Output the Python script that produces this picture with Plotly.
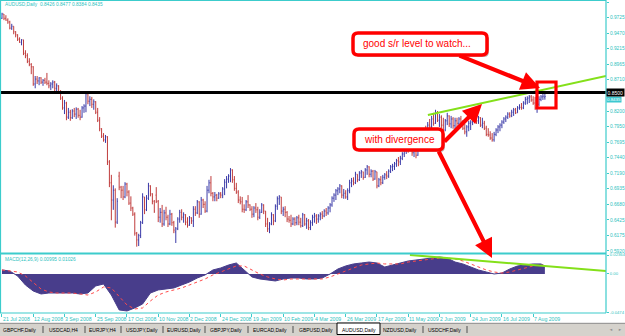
import plotly.graph_objects as go

# ---------------- data ----------------
date_labels = ["21 Jul 2008", "12 Aug 2008", "3 Sep 2008", "25 Sep 2008", "17 Oct 2008",
               "10 Nov 2008", "2 Dec 2008", "24 Dec 2008", "19 Jan 2009", "10 Feb 2009",
               "4 Mar 2009", "26 Mar 2009", "17 Apr 2009", "11 May 2009", "2 Jun 2009",
               "24 Jun 2009", "16 Jul 2009", "7 Aug 2009"]
date_label_bars = [0, 16, 32, 48, 64, 80, 96, 112, 128, 144, 160, 176, 192, 208, 224, 240, 256, 272]

price_ticks = [0.9975, 0.9725, 0.9470, 0.9215, 0.8965, 0.8710, 0.8200, 0.7950, 0.7695,
               0.7440, 0.7190, 0.6935, 0.6680, 0.6425, 0.6175, 0.5920]
price_ticktext = ["0.9975", "0.9725", "0.9470", "0.9215", "0.8965", "0.8710", "0.8200", "0.7950",
                  "0.7695", "0.7440", "0.7190", "0.6935", "0.6680", "0.6425", "0.6175", "0.5920"]
macd_ticks = [0.02364, 0.0, -0.0474]
macd_ticktext = ["0.02364", "0.00", "-0.0474"]

opens = [
    0.971, 0.978, 0.971, 0.968, 0.965, 0.955, 0.958, 0.949, 0.944, 0.937,
    0.932, 0.936, 0.914, 0.910, 0.901, 0.896, 0.892, 0.864, 0.872, 0.869,
    0.874, 0.867, 0.870, 0.867, 0.865, 0.861, 0.864, 0.867, 0.857, 0.861,
    0.851, 0.841, 0.825, 0.833, 0.810, 0.818, 0.809, 0.820, 0.815, 0.823,
    0.813, 0.810, 0.825, 0.828, 0.848, 0.836, 0.839, 0.831, 0.835, 0.818,
    0.805, 0.791, 0.779, 0.773, 0.778, 0.737, 0.703, 0.675, 0.691, 0.639,
    0.714, 0.696, 0.691, 0.680, 0.701, 0.688, 0.670, 0.662, 0.652, 0.621,
    0.610, 0.617, 0.638, 0.680, 0.659, 0.678, 0.698, 0.685, 0.673, 0.683,
    0.673, 0.647, 0.655, 0.636, 0.654, 0.647, 0.636, 0.652, 0.638, 0.623,
    0.628, 0.644, 0.655, 0.647, 0.651, 0.639, 0.634, 0.646, 0.641, 0.660,
    0.654, 0.672, 0.652, 0.675, 0.668, 0.657, 0.691, 0.703, 0.686, 0.680,
    0.683, 0.678, 0.685, 0.683, 0.693, 0.704, 0.709, 0.714, 0.724, 0.708,
    0.694, 0.688, 0.675, 0.672, 0.660, 0.659, 0.672, 0.667, 0.660, 0.652,
    0.662, 0.659, 0.647, 0.655, 0.667, 0.657, 0.636, 0.628, 0.636, 0.651,
    0.641, 0.665, 0.677, 0.680, 0.657, 0.660, 0.655, 0.644, 0.642, 0.636,
    0.644, 0.638, 0.646, 0.639, 0.633, 0.651, 0.636, 0.641, 0.630, 0.638,
    0.647, 0.649, 0.644, 0.649, 0.652, 0.649, 0.657, 0.654, 0.662, 0.667,
    0.678, 0.683, 0.690, 0.693, 0.698, 0.683, 0.686, 0.680, 0.690, 0.703,
    0.706, 0.703, 0.717, 0.708, 0.719, 0.721, 0.712, 0.724, 0.729, 0.717,
    0.722, 0.709, 0.721, 0.698, 0.708, 0.703, 0.712, 0.716, 0.714, 0.722,
    0.729, 0.730, 0.734, 0.739, 0.737, 0.743, 0.750, 0.755, 0.760, 0.756,
    0.765, 0.752, 0.755, 0.748, 0.766, 0.773, 0.781, 0.787, 0.784, 0.797,
    0.794, 0.807, 0.800, 0.817, 0.805, 0.810, 0.797, 0.789, 0.804, 0.812,
    0.799, 0.807, 0.796, 0.804, 0.800, 0.807, 0.802, 0.792, 0.786, 0.794,
    0.800, 0.802, 0.807, 0.810, 0.804, 0.809, 0.797, 0.800, 0.792, 0.782,
    0.781, 0.776, 0.773, 0.782, 0.789, 0.794, 0.797, 0.802, 0.807, 0.810,
    0.815, 0.812, 0.818, 0.822, 0.817, 0.825, 0.826, 0.825, 0.833, 0.839,
    0.841, 0.843, 0.838, 0.833, 0.825, 0.831, 0.839, 0.843, 0.8426]

highs = [
    0.980, 0.978, 0.976, 0.971, 0.967, 0.962, 0.958, 0.950, 0.945, 0.940,
    0.937, 0.936, 0.919, 0.914, 0.906, 0.898, 0.893, 0.877, 0.877, 0.875,
    0.875, 0.872, 0.874, 0.882, 0.870, 0.867, 0.870, 0.869, 0.865, 0.862,
    0.854, 0.844, 0.838, 0.835, 0.825, 0.822, 0.823, 0.825, 0.826, 0.825,
    0.822, 0.828, 0.831, 0.851, 0.848, 0.844, 0.843, 0.839, 0.836, 0.825,
    0.810, 0.792, 0.784, 0.781, 0.779, 0.740, 0.716, 0.699, 0.694, 0.678,
    0.721, 0.698, 0.698, 0.704, 0.703, 0.691, 0.681, 0.664, 0.655, 0.623,
    0.620, 0.641, 0.686, 0.680, 0.683, 0.703, 0.699, 0.686, 0.675, 0.696,
    0.675, 0.662, 0.667, 0.659, 0.664, 0.651, 0.659, 0.654, 0.641, 0.631,
    0.647, 0.659, 0.660, 0.655, 0.652, 0.647, 0.649, 0.647, 0.665, 0.665,
    0.675, 0.673, 0.680, 0.677, 0.673, 0.698, 0.708, 0.714, 0.688, 0.688,
    0.685, 0.688, 0.688, 0.696, 0.709, 0.714, 0.717, 0.727, 0.725, 0.714,
    0.703, 0.691, 0.681, 0.680, 0.668, 0.675, 0.683, 0.668, 0.665, 0.665,
    0.670, 0.664, 0.660, 0.670, 0.668, 0.657, 0.646, 0.639, 0.655, 0.652,
    0.668, 0.681, 0.683, 0.680, 0.664, 0.665, 0.657, 0.649, 0.651, 0.647,
    0.647, 0.649, 0.651, 0.646, 0.654, 0.652, 0.646, 0.644, 0.642, 0.651,
    0.654, 0.652, 0.652, 0.655, 0.657, 0.660, 0.662, 0.665, 0.670, 0.681,
    0.686, 0.693, 0.696, 0.701, 0.699, 0.693, 0.691, 0.694, 0.708, 0.711,
    0.712, 0.721, 0.717, 0.722, 0.724, 0.721, 0.727, 0.732, 0.730, 0.725,
    0.724, 0.724, 0.721, 0.711, 0.714, 0.716, 0.719, 0.722, 0.725, 0.732,
    0.734, 0.737, 0.742, 0.745, 0.747, 0.753, 0.758, 0.763, 0.765, 0.768,
    0.765, 0.760, 0.761, 0.771, 0.778, 0.784, 0.792, 0.796, 0.802, 0.807,
    0.812, 0.817, 0.822, 0.820, 0.815, 0.813, 0.809, 0.807, 0.817, 0.813,
    0.812, 0.810, 0.809, 0.809, 0.810, 0.812, 0.805, 0.799, 0.797, 0.804,
    0.805, 0.810, 0.813, 0.813, 0.812, 0.810, 0.809, 0.804, 0.796, 0.792,
    0.787, 0.784, 0.786, 0.792, 0.797, 0.800, 0.805, 0.810, 0.813, 0.818,
    0.818, 0.822, 0.825, 0.825, 0.828, 0.831, 0.833, 0.836, 0.843, 0.844,
    0.846, 0.846, 0.844, 0.843, 0.838, 0.844, 0.846, 0.848, 0.8477]

lows = [
    0.970, 0.968, 0.967, 0.962, 0.953, 0.952, 0.945, 0.940, 0.934, 0.931,
    0.927, 0.911, 0.906, 0.898, 0.893, 0.880, 0.861, 0.857, 0.864, 0.862,
    0.864, 0.861, 0.864, 0.862, 0.857, 0.854, 0.857, 0.852, 0.851, 0.848,
    0.838, 0.822, 0.815, 0.805, 0.807, 0.804, 0.807, 0.810, 0.807, 0.809,
    0.805, 0.809, 0.817, 0.818, 0.831, 0.828, 0.825, 0.822, 0.815, 0.802,
    0.787, 0.776, 0.770, 0.768, 0.732, 0.696, 0.642, 0.659, 0.630, 0.636,
    0.691, 0.678, 0.675, 0.678, 0.681, 0.667, 0.657, 0.649, 0.617, 0.599,
    0.600, 0.613, 0.636, 0.652, 0.657, 0.675, 0.681, 0.668, 0.654, 0.670,
    0.639, 0.638, 0.631, 0.633, 0.642, 0.631, 0.634, 0.633, 0.621, 0.605,
    0.626, 0.638, 0.642, 0.638, 0.634, 0.630, 0.633, 0.636, 0.631, 0.649,
    0.652, 0.646, 0.651, 0.662, 0.654, 0.655, 0.686, 0.681, 0.673, 0.673,
    0.673, 0.677, 0.678, 0.678, 0.683, 0.694, 0.703, 0.704, 0.703, 0.690,
    0.685, 0.670, 0.668, 0.655, 0.654, 0.657, 0.662, 0.657, 0.646, 0.647,
    0.654, 0.642, 0.644, 0.654, 0.652, 0.631, 0.623, 0.621, 0.634, 0.634,
    0.639, 0.659, 0.667, 0.652, 0.649, 0.647, 0.639, 0.638, 0.631, 0.634,
    0.633, 0.634, 0.634, 0.630, 0.631, 0.633, 0.628, 0.626, 0.626, 0.633,
    0.638, 0.636, 0.638, 0.642, 0.644, 0.647, 0.649, 0.651, 0.655, 0.664,
    0.672, 0.675, 0.683, 0.686, 0.678, 0.677, 0.677, 0.675, 0.686, 0.696,
    0.699, 0.701, 0.704, 0.706, 0.711, 0.708, 0.711, 0.716, 0.712, 0.712,
    0.706, 0.708, 0.694, 0.696, 0.699, 0.701, 0.708, 0.709, 0.711, 0.719,
    0.722, 0.724, 0.729, 0.730, 0.732, 0.740, 0.745, 0.750, 0.752, 0.755,
    0.747, 0.745, 0.743, 0.747, 0.761, 0.768, 0.774, 0.781, 0.782, 0.791,
    0.792, 0.796, 0.799, 0.802, 0.794, 0.792, 0.784, 0.787, 0.797, 0.794,
    0.792, 0.791, 0.789, 0.794, 0.797, 0.797, 0.789, 0.782, 0.778, 0.787,
    0.789, 0.797, 0.800, 0.799, 0.799, 0.794, 0.792, 0.789, 0.779, 0.778,
    0.773, 0.770, 0.770, 0.779, 0.784, 0.787, 0.792, 0.799, 0.802, 0.807,
    0.809, 0.810, 0.812, 0.815, 0.817, 0.822, 0.822, 0.823, 0.830, 0.831,
    0.833, 0.835, 0.830, 0.822, 0.817, 0.828, 0.836, 0.838, 0.8384]

closes = [
    0.978, 0.971, 0.968, 0.965, 0.955, 0.958, 0.949, 0.944, 0.937, 0.932,
    0.936, 0.914, 0.910, 0.901, 0.896, 0.892, 0.864, 0.872, 0.869, 0.874,
    0.867, 0.870, 0.867, 0.865, 0.861, 0.864, 0.867, 0.857, 0.861, 0.851,
    0.841, 0.825, 0.833, 0.810, 0.818, 0.809, 0.820, 0.815, 0.823, 0.813,
    0.810, 0.825, 0.828, 0.848, 0.836, 0.839, 0.831, 0.835, 0.818, 0.805,
    0.791, 0.779, 0.773, 0.778, 0.737, 0.703, 0.675, 0.691, 0.639, 0.673,
    0.696, 0.691, 0.680, 0.701, 0.688, 0.670, 0.662, 0.652, 0.621, 0.610,
    0.617, 0.638, 0.680, 0.659, 0.678, 0.698, 0.685, 0.673, 0.657, 0.673,
    0.647, 0.655, 0.636, 0.654, 0.647, 0.636, 0.652, 0.638, 0.626, 0.628,
    0.644, 0.655, 0.647, 0.651, 0.639, 0.634, 0.646, 0.641, 0.660, 0.654,
    0.672, 0.652, 0.675, 0.668, 0.657, 0.691, 0.703, 0.686, 0.680, 0.683,
    0.678, 0.685, 0.683, 0.693, 0.704, 0.709, 0.714, 0.724, 0.708, 0.694,
    0.688, 0.675, 0.672, 0.660, 0.659, 0.672, 0.667, 0.660, 0.652, 0.662,
    0.659, 0.647, 0.655, 0.667, 0.657, 0.636, 0.628, 0.636, 0.651, 0.641,
    0.665, 0.677, 0.680, 0.657, 0.660, 0.655, 0.644, 0.642, 0.636, 0.644,
    0.638, 0.646, 0.639, 0.633, 0.651, 0.636, 0.641, 0.630, 0.638, 0.647,
    0.649, 0.644, 0.649, 0.652, 0.649, 0.657, 0.654, 0.662, 0.667, 0.678,
    0.683, 0.690, 0.693, 0.698, 0.683, 0.686, 0.680, 0.690, 0.703, 0.706,
    0.703, 0.717, 0.708, 0.719, 0.721, 0.712, 0.724, 0.729, 0.717, 0.722,
    0.709, 0.721, 0.698, 0.708, 0.703, 0.712, 0.716, 0.714, 0.722, 0.729,
    0.730, 0.734, 0.739, 0.737, 0.743, 0.750, 0.755, 0.760, 0.756, 0.765,
    0.752, 0.755, 0.748, 0.766, 0.773, 0.781, 0.787, 0.784, 0.797, 0.794,
    0.807, 0.800, 0.817, 0.805, 0.810, 0.797, 0.789, 0.804, 0.812, 0.799,
    0.807, 0.796, 0.804, 0.800, 0.807, 0.802, 0.792, 0.786, 0.794, 0.800,
    0.802, 0.807, 0.810, 0.804, 0.809, 0.797, 0.800, 0.792, 0.782, 0.781,
    0.776, 0.773, 0.782, 0.789, 0.794, 0.797, 0.802, 0.807, 0.810, 0.815,
    0.812, 0.818, 0.822, 0.817, 0.825, 0.826, 0.825, 0.833, 0.839, 0.841,
    0.843, 0.838, 0.833, 0.825, 0.831, 0.839, 0.843, 0.844, 0.8435]

macd_bars = [0, 4, 8, 12, 16, 20, 24, 28, 32, 36, 40, 44, 48, 52, 56, 60, 64, 68, 72, 76,
             80, 84, 88, 92, 96, 100, 104, 108, 112, 116, 120, 124, 128, 132, 136, 140, 144, 148, 152, 156,
             160, 164, 168, 172, 176, 180, 184, 188, 192, 196, 200, 204, 208, 212, 216, 220, 224, 228, 232, 236,
             240, 244, 248, 252, 256, 260, 264, 268, 272, 276, 278]
macd_main = [0.0050, 0.0037, -0.0025, -0.0137, -0.0212, -0.0249, -0.0237, -0.0237, -0.0237, -0.0237,
             -0.0249, -0.0237, -0.0149, -0.0125, -0.0262, -0.0448, -0.0461, -0.0423, -0.0374, -0.0237,
             -0.0199, -0.0187, -0.0174, -0.0137, -0.0100, -0.0050, -0.0012, 0.0050, 0.0075, 0.0112,
             0.0137, 0.0050, -0.0037, -0.0062, -0.0075, -0.0087, -0.0062, -0.0050, -0.0050, -0.0062,
             -0.0062, -0.0050, 0.0000, 0.0062, 0.0100, 0.0125, 0.0137, 0.0149, 0.0137, 0.0087,
             0.0112, 0.0137, 0.0162, 0.0174, 0.0187, 0.0199, 0.0212, 0.0199, 0.0149, 0.0125,
             0.0087, 0.0050, 0.0025, 0.0000, 0.0012, 0.0062, 0.0100, 0.0112, 0.0125, 0.0125, 0.00995]
macd_signal = [0.0050, 0.0037, 0.0025, -0.0025, -0.0112, -0.0187, -0.0224, -0.0237, -0.0237, -0.0237,
               -0.0249, -0.0262, -0.0224, -0.0162, -0.0174, -0.0274, -0.0386, -0.0436, -0.0423, -0.0336,
               -0.0262, -0.0224, -0.0199, -0.0174, -0.0137, -0.0100, -0.0062, -0.0012, 0.0025, 0.0062,
               0.0100, 0.0100, 0.0050, 0.0000, -0.0037, -0.0062, -0.0075, -0.0062, -0.0062, -0.0062,
               -0.0062, -0.0062, -0.0037, 0.0000, 0.0037, 0.0075, 0.0112, 0.0125, 0.0137, 0.0125,
               0.0125, 0.0125, 0.0149, 0.0162, 0.0174, 0.0187, 0.0199, 0.0199, 0.0187, 0.0162,
               0.0125, 0.0087, 0.0050, 0.0025, 0.0012, 0.0025, 0.0050, 0.0075, 0.0100, 0.0112, 0.01026]

level_price = 0.85
bid_price = 0.8435
price_trend_bars = [218.1, 309.3]
price_trend_vals = [0.8135, 0.8770]
macd_trend_bars = [208.9, 309.3]
macd_trend_vals = [0.0237, 0.0037]

tab_names = ["GBPCHF,Daily", "USDCAD,H4", "EURJPY,H4", "USDJPY,Daily", "EURUSD,Daily", "GBPJPY,Daily",
             "EURCAD,Daily", "GBPUSD,Daily", "AUDUSD,Daily", "NZDUSD,Daily", "USDCHF,Daily"]

# ---------------- layout helpers (pixel -> paper) ----------------
W, H = 625, 336
PW = 606.0
def X(p): return p / PW
def Y(p): return 1 - p / H

TEAL = '#3ccccc'
TEAL_TXT = '#2fbfc0'
GREEN = '#84e01a'
RED = '#ff0000'
FONT = 'Liberation Sans, Arial, sans-serif'
XMIN, XMAX = -1.02, 309.3

bars = list(range(len(closes)))

fig = go.Figure()
fig.add_trace(go.Ohlc(
    x=bars, open=opens, high=highs, low=lows, close=closes,
    increasing=dict(line=dict(color='#3a3aa8', width=1)),
    decreasing=dict(line=dict(color='#c03c3c', width=1)),
    tickwidth=0.35, xaxis='x', yaxis='y', hoverinfo='skip', showlegend=False))
fig.add_trace(go.Scatter(
    x=macd_bars, y=macd_main, mode='lines', fill='tozeroy', fillcolor='#483d8b',
    line=dict(color='#483d8b', width=1), xaxis='x2', yaxis='y2', hoverinfo='skip'))
fig.add_trace(go.Scatter(
    x=macd_bars, y=macd_signal, mode='lines', line=dict(color='#ff4a4a', width=1, dash='dot'),
    xaxis='x2', yaxis='y2', hoverinfo='skip'))
fig.add_trace(go.Scatter(
    x=price_trend_bars, y=price_trend_vals, mode='lines', line=dict(color=GREEN, width=2),
    xaxis='x', yaxis='y', hoverinfo='skip'))
fig.add_trace(go.Scatter(
    x=macd_trend_bars, y=macd_trend_vals, mode='lines', line=dict(color=GREEN, width=2),
    xaxis='x2', yaxis='y2', hoverinfo='skip'))


def rrect(x0, y0, x1, y1, r):
    return (f"M {X(x0+r)},{Y(y0)} L {X(x1-r)},{Y(y0)} Q {X(x1)},{Y(y0)} {X(x1)},{Y(y0+r)} "
            f"L {X(x1)},{Y(y1-r)} Q {X(x1)},{Y(y1)} {X(x1-r)},{Y(y1)} "
            f"L {X(x0+r)},{Y(y1)} Q {X(x0)},{Y(y1)} {X(x0)},{Y(y1-r)} "
            f"L {X(x0)},{Y(y0+r)} Q {X(x0)},{Y(y0)} {X(x0+r)},{Y(y0)} Z")

shapes = []
shapes.append(dict(type='line', xref='paper', yref='y', x0=0, x1=1, y0=level_price, y1=level_price,
                   line=dict(color='black', width=3)))
border = dict(color=TEAL, width=1.2)
shapes += [
    dict(type='line', xref='paper', yref='paper', x0=1, x1=1, y0=Y(0), y1=Y(313), line=border),
    dict(type='line', xref='paper', yref='paper', x0=X(0.5), x1=X(0.5), y0=Y(0), y1=Y(313), line=border),
    dict(type='line', xref='paper', yref='paper', x0=0, x1=1, y0=Y(0.5), y1=Y(0.5), line=border),
    dict(type='line', xref='paper', yref='paper', x0=0, x1=1, y0=Y(253.5), y1=Y(253.5),
         line=dict(color=TEAL, width=2.2)),
    dict(type='line', xref='paper', yref='paper', x0=0, x1=1, y0=Y(313), y1=Y(313), line=border),
]
for (bx0, by0, bx1, by1) in [(353, 33, 487, 55), (354, 129, 443, 150)]:
    shapes.append(dict(type='path', xref='paper', yref='paper', path=rrect(bx0 + 2, by0 + 2, bx1 + 2, by1 + 2, 5),
                       fillcolor='rgba(110,110,110,0.45)', line=dict(width=0)))
    shapes.append(dict(type='path', xref='paper', yref='paper', path=rrect(bx0, by0, bx1, by1, 5),
                       fillcolor='white', line=dict(color=RED, width=3.5)))
shapes.append(dict(type='rect', xref='paper', yref='paper', x0=X(537), x1=X(556), y0=Y(82), y1=Y(108),
                   line=dict(color=RED, width=3.2)))
# tab bar
shapes.append(dict(type='rect', xref='paper', yref='paper', x0=0, x1=X(625), y0=Y(336), y1=Y(323),
                   fillcolor='#d5d2cc', line=dict(width=0)))
shapes.append(dict(type='line', xref='paper', yref='paper', x0=0, x1=X(625), y0=Y(323.3), y1=Y(323.3),
                   line=dict(color='#8c8c8c', width=1)))
shapes.append(dict(type='rect', xref='paper', yref='paper', x0=X(337), x1=X(380), y0=Y(334.5), y1=Y(323),
                   fillcolor='white', line=dict(color='black', width=1)))
for sx in [43, 85, 121, 163, 205, 248, 293, 423, 467]:
    shapes.append(dict(type='line', xref='paper', yref='paper', x0=X(sx), x1=X(sx), y0=Y(326), y1=Y(333),
                       line=dict(color='#505050', width=1)))

annotations = []
def txt(x, y, s, size=5, color=TEAL_TXT, xanchor='left', **kw):
    annotations.append(dict(x=X(x), y=Y(y), xref='paper', yref='paper', text=s, showarrow=False,
                            xanchor=xanchor, yanchor='middle', font=dict(size=size, color=color, family=FONT), **kw))

txt(3, 5, "AUDUSD,Daily  0.8426 0.8477 0.8384 0.8435", size=4.8)
txt(3, 259, "MACD(12,26,9) 0.00995 0.01026", size=4.8)
txt(361, 44, "good s/r level to watch...", size=10, color=RED)
txt(362, 139.5, "with divergence", size=10, color=RED)

# date labels along the bottom axis, placed at their bars (left-aligned like the terminal)
for b, lab in zip(date_label_bars, date_labels):
    annotations.append(dict(x=b, y=Y(318.5), xref='x2', yref='paper', text=lab, showarrow=False,
                            xanchor='left', yanchor='middle', xshift=-1,
                            font=dict(size=5.2, color=TEAL_TXT, family=FONT)))

# right-axis price boxes
annotations.append(dict(x=X(606), y=Y(96.3), xref='paper', yref='paper', text="0.8435", showarrow=False,
                        xanchor='left', yanchor='top', bgcolor='#3cc8d0', borderpad=0,
                        font=dict(size=4.4, color='white', family=FONT)))
annotations.append(dict(x=X(606), y=level_price, xref='paper', yref='y', text="0.8500", showarrow=False,
                        xanchor='left', yanchor='middle', bgcolor='black', borderpad=0.5,
                        font=dict(size=5, color='white', family=FONT)))

for (hx, hy, tx, ty) in [(540, 88, 458, 55), (482, 104, 443, 143), (492, 258, 438, 150)]:
    annotations.append(dict(x=X(hx), y=Y(hy), xref='paper', yref='paper', text='', showarrow=True,
                            ax=tx - hx, ay=ty - hy, axref='pixel', ayref='pixel',
                            arrowhead=2, arrowsize=0.9, arrowwidth=4.2, arrowcolor=RED, standoff=0))

tab_centers = [19, 63.5, 102.5, 142, 184, 226, 270, 315.5, 358.5, 400, 445]
for name, cx in zip(tab_names, tab_centers):
    txt(cx, 329.5, name, size=5, color='black', xanchor='center')
txt(611, 329.5, "◄", size=4, color='#909090', xanchor='center')
txt(620, 329.5, "►", size=4, color='#909090', xanchor='center')

fig.update_layout(
    width=W, height=H, margin=dict(l=0, r=19, t=0, b=0, pad=0),
    paper_bgcolor='white', plot_bgcolor='white', showlegend=False,
    shapes=shapes, annotations=annotations,
    xaxis=dict(domain=[0, 1], range=[XMIN, XMAX], anchor='y', showticklabels=False, showgrid=False,
               zeroline=False, showline=False, ticks='', rangeslider=dict(visible=False), fixedrange=True),
    xaxis2=dict(domain=[0, 1], range=[XMIN, XMAX], anchor='y2', tickvals=date_label_bars,
                showticklabels=False, ticks='outside', ticklen=3, tickcolor=TEAL,
                showgrid=False, zeroline=False, showline=False, fixedrange=True, automargin=False),
    yaxis=dict(domain=[Y(253), 1], range=[0.5887, 1.0008], side='right', anchor='x',
               tickvals=price_ticks, ticktext=price_ticktext, ticks='outside', ticklen=2, tickcolor=TEAL,
               tickfont=dict(size=4.8, color=TEAL_TXT, family=FONT), showgrid=False, zeroline=False,
               showline=False, fixedrange=True, automargin=False),
    yaxis2=dict(domain=[Y(313), Y(254)], range=[-0.0486, 0.0249], side='right', anchor='x2',
                tickvals=macd_ticks, ticktext=macd_ticktext, ticks='outside', ticklen=2, tickcolor=TEAL,
                tickfont=dict(size=4.2, color=TEAL_TXT, family=FONT), showgrid=False, zeroline=False,
                showline=False, fixedrange=True, automargin=False),
)

fig.write_html("out.html", config={'displayModeBar': False})
